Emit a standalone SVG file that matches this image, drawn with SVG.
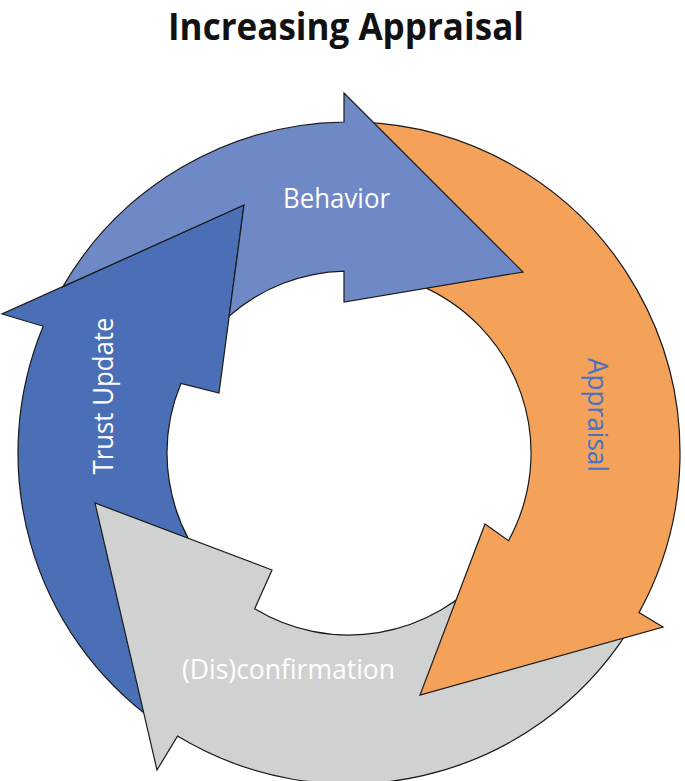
<svg xmlns="http://www.w3.org/2000/svg" width="685" height="781" viewBox="0 0 685 781">
<style>
.arrow{stroke:#1a1a1a;stroke-width:1.2;stroke-linejoin:miter}
.lbl{font-family:"Open Sans","Liberation Sans",sans-serif;font-size:27px;text-anchor:middle}
.title{font-family:"Open Sans","Liberation Sans",sans-serif;font-size:38px;font-weight:bold;text-anchor:middle;fill:#111}
</style>
<rect width="685" height="781" fill="#ffffff"/>
<text class="title" x="346" y="40" textLength="356" lengthAdjust="spacingAndGlyphs">Increasing Appraisal</text>
<g id="connectors"></g>
<g id="trust-update">
<path class="arrow" fill="#4A6FB6" d="M154.4,720.8 A331,331 0 0 1 43.2,326.3 L2,314 L244,205 L219,393 L180.9,383.4 A182,182 0 0 0 209.6,570 Z"/>
<text class="lbl" fill="#ffffff" transform="translate(113,396) rotate(-90)" x="0" y="0" textLength="157" lengthAdjust="spacingAndGlyphs">Trust Update</text>
</g>
<g id="disconfirmation">
<path class="arrow" fill="#D0D2D1" d="M626.6,633.3 A331,331 0 0 1 177.5,736.1 L157,770 L95,503 L272,570 L254.7,608.7 A182,182 0 0 0 488.4,570 Z"/>
<text class="lbl" fill="#ffffff" x="288.5" y="679" textLength="213" lengthAdjust="spacingAndGlyphs">(Dis)confirmation</text>
</g>
<g id="appraisal">
<path class="arrow" fill="#F4A15A" d="M360,122.2 A331,331 0 0 1 639,612.6 L663,627 L420,695 L485,524 L508.5,540.7 A182,182 0 0 0 420,285.4 Z"/>
<text class="lbl" fill="#4472C4" transform="translate(588,415) rotate(90)" x="0" y="0" textLength="114" lengthAdjust="spacingAndGlyphs">Appraisal</text>
</g>
<g id="behavior">
<path class="arrow" fill="#6F89C7" d="M62.9,286.6 A331,331 0 0 1 344,122 L344,93 L523,272 L344,302 L344,271.1 A182,182 0 0 0 229.2,316 L244,205 Z"/>
<text class="lbl" fill="#ffffff" x="336.5" y="208" textLength="107" lengthAdjust="spacingAndGlyphs">Behavior</text>
</g>
</svg>
